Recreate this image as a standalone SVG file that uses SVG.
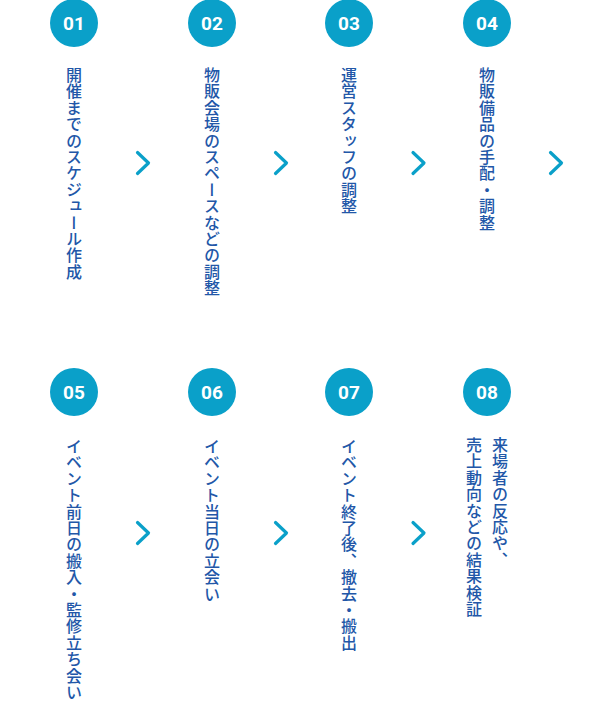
<svg xmlns="http://www.w3.org/2000/svg" width="596" height="710" viewBox="0 0 596 710">
<style>
.c{fill:#0aa0c9}
.n{fill:#fff;font-family:Roboto,"Liberation Sans",sans-serif;font-weight:700;font-size:19px;text-anchor:middle}
.t{fill:#2257a8;font-family:"Noto Sans CJK JP","Noto Sans",sans-serif;font-size:16px;font-weight:500;writing-mode:vertical-rl;letter-spacing:0.4px}
.ch{fill:none;stroke:#0aa0c9;stroke-width:3.2;stroke-linecap:round;stroke-linejoin:round}
</style>
<rect width="596" height="710" fill="#fff"/>
<g id="step01"><circle class="c" cx="74" cy="23" r="24"/><text class="n" x="74" y="30">01</text><text class="t" x="74" y="67">開催までのスケジュール作成</text></g>
<g id="step02"><circle class="c" cx="212" cy="23" r="24"/><text class="n" x="212" y="30">02</text><text class="t" x="212" y="67">物販会場のスペースなどの調整</text></g>
<g id="step03"><circle class="c" cx="349" cy="23" r="24"/><text class="n" x="349" y="30">03</text><text class="t" x="349" y="67">運営スタッフの調整</text></g>
<g id="step04"><circle class="c" cx="487" cy="23" r="24"/><text class="n" x="487" y="30">04</text><text class="t" x="487" y="67">物販備品の手配・調整</text></g>
<g id="step05"><circle class="c" cx="74" cy="392" r="24"/><text class="n" x="74" y="399">05</text><text class="t" x="74" y="438">イベント前日の搬入・監修立ち会い</text></g>
<g id="step06"><circle class="c" cx="212" cy="392" r="24"/><text class="n" x="212" y="399">06</text><text class="t" x="212" y="438">イベント当日の立会い</text></g>
<g id="step07"><circle class="c" cx="349" cy="392" r="24"/><text class="n" x="349" y="399">07</text><text class="t" x="349" y="438">イベント終了後、撤去・搬出</text></g>
<g id="step08"><circle class="c" cx="487" cy="392" r="24"/><text class="n" x="487" y="399">08</text><text class="t" x="500" y="437">来場者の反応や、</text><text class="t" x="474" y="437">売上動向などの結果検証</text></g>
<g id="connectors">
<path class="ch" d="M137.5 152.5L148.5 163L137.5 173.5"/>
<path class="ch" d="M275.5 152.5L286.5 163L275.5 173.5"/>
<path class="ch" d="M413 152.5L424 163L413 173.5"/>
<path class="ch" d="M550.5 152.5L561.5 163L550.5 173.5"/>
<path class="ch" d="M137.5 522.5L148.5 533L137.5 543.5"/>
<path class="ch" d="M275.5 522.5L286.5 533L275.5 543.5"/>
<path class="ch" d="M413 522.5L424 533L413 543.5"/>
</g>
</svg>
